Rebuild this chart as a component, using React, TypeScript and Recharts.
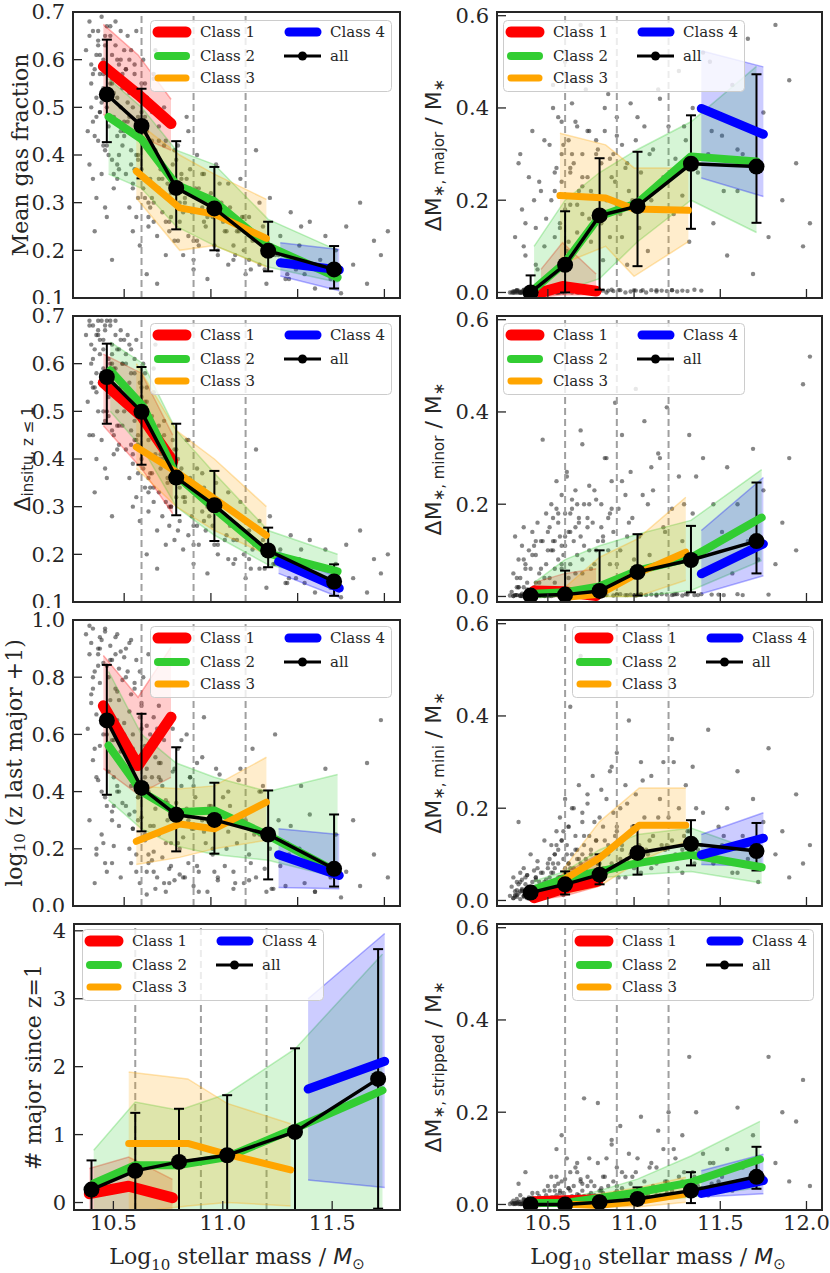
import React from 'react';
import {
  ComposedChart,
  XAxis,
  YAxis,
  Scatter,
  Line,
  Area,
  ErrorBar,
  ReferenceLine,
  ReferenceArea,
  Legend,
} from 'recharts';

// ---------------- galaxy sample (stellar mass) ----------------
const GALAXY_MASS = [
  10.28, 10.29, 10.3, 10.3, 10.31, 10.32, 10.32, 10.33, 10.34, 10.34, 10.35, 10.35, 10.36, 10.36, 10.37, 10.37, 10.38, 10.38, 10.39, 10.39,
  10.4, 10.4, 10.41, 10.41, 10.42, 10.42, 10.43, 10.43, 10.44, 10.44, 10.45, 10.45, 10.46, 10.46, 10.47, 10.47, 10.48, 10.48, 10.49, 10.49,
  10.5, 10.5, 10.33, 10.38, 10.43, 10.46,
  10.51, 10.51, 10.52, 10.52, 10.53, 10.53, 10.54, 10.54, 10.55, 10.55, 10.56, 10.56, 10.57, 10.57, 10.58, 10.58, 10.59, 10.6, 10.6, 10.61,
  10.62, 10.62, 10.63, 10.64, 10.64, 10.65, 10.66, 10.67, 10.67, 10.68, 10.69, 10.7, 10.7, 10.71, 10.72, 10.73, 10.74, 10.74, 10.75, 10.76,
  10.77, 10.78, 10.79, 10.8, 10.63, 10.69,
  10.81, 10.82, 10.83, 10.84, 10.85, 10.86, 10.87, 10.88, 10.89, 10.9, 10.91, 10.92, 10.93, 10.95, 10.96, 10.97, 10.98, 11.0, 11.01, 11.03,
  11.04, 11.06, 11.08, 11.1,
  11.11, 11.13, 11.15, 11.17, 11.19, 11.2, 11.22, 11.24, 11.26, 11.28, 11.3, 11.32, 11.34, 11.37, 11.4, 11.43, 11.46, 11.49,
  11.51, 11.54, 11.57, 11.6, 11.63, 11.66, 11.69, 11.72, 11.75, 11.78, 11.82, 11.86, 11.9, 11.94, 11.98, 12.02,
  10.31, 10.33, 10.35, 10.37, 10.39, 10.41, 10.43, 10.45, 10.47, 10.49,
  10.32, 10.34, 10.36, 10.38, 10.4, 10.42, 10.44, 10.46, 10.48, 10.5,
  10.52, 10.54, 10.56, 10.58, 10.6, 10.62, 10.64, 10.66, 10.68, 10.7,
  10.53, 10.55, 10.57, 10.59, 10.61, 10.63, 10.65, 10.67, 10.71, 10.73,
  10.75, 10.77, 10.79, 10.81, 10.83, 10.85, 10.87, 10.9, 10.93, 10.96,
  10.99, 11.02, 11.05, 11.09, 11.14, 11.18, 11.23, 11.29, 11.36, 11.44,
  10.3, 10.32, 10.34, 10.36, 10.38, 10.4, 10.42, 10.44, 10.46, 10.48,
  10.31, 10.35, 10.39, 10.43, 10.47, 10.51, 10.55, 10.59, 10.63, 10.67,
  10.5, 10.53, 10.56, 10.6, 10.64, 10.68, 10.72, 10.76, 10.8, 10.84,
  10.88, 10.92, 10.95, 10.98, 11.01, 11.04, 11.07, 11.1, 11.13, 11.16,
  10.54, 10.58, 10.62, 10.66, 10.7, 10.74, 10.78, 10.82, 10.86, 10.9,
  11.19, 11.22, 11.25, 11.28, 11.31, 11.35, 11.39, 11.45, 11.52, 11.6,
];

// per-galaxy values, same order as GALAXY_MASS
const GAS_FRACTION_PTS = [
  0.62, 0.45, 0.68, 0.38, 0.55, 0.47, 0.66, 0.58, 0.31, 0.52, 0.64, 0.43, 0.57, 0.49, 0.69, 0.36, 0.6, 0.53, 0.41, 0.65,
  0.5, 0.27, 0.58, 0.46, 0.67, 0.55, 0.39, 0.61, 0.48, 0.33, 0.56, 0.63, 0.44, 0.52, 0.59, 0.37, 0.66, 0.5, 0.42, 0.57,
  0.47, 0.62, 0.24, 0.54, 0.18, 0.35,
  0.58, 0.36, 0.65, 0.47, 0.29, 0.53, 0.41, 0.62, 0.34, 0.5, 0.44, 0.57, 0.27, 0.66, 0.39, 0.48, 0.21, 0.55, 0.37, 0.6,
  0.31, 0.45, 0.52, 0.25, 0.42, 0.35, 0.49, 0.3, 0.56, 0.4, 0.23, 0.46, 0.33, 0.38, 0.28, 0.5, 0.19, 0.43, 0.36, 0.26,
  0.32, 0.47, 0.22, 0.34, 0.15, 0.13,
  0.42, 0.26, 0.35, 0.19, 0.31, 0.48, 0.23, 0.37, 0.28, 0.16, 0.33, 0.4, 0.21, 0.29, 0.36, 0.25, 0.14, 0.32, 0.27, 0.38,
  0.2, 0.3, 0.24, 0.17,
  0.29, 0.18, 0.24, 0.35, 0.2, 0.15, 0.27, 0.22, 0.41, 0.17, 0.25, 0.13, 0.31, 0.19, 0.23, 0.14, 0.28, 0.16,
  0.21, 0.15, 0.26, 0.12, 0.18, 0.23, 0.14, 0.2, 0.11, 0.25, 0.17, 0.3, 0.13, 0.22, 0.19, 0.24,
  0.59, 0.44, 0.66, 0.51, 0.63, 0.4, 0.56, 0.68, 0.47, 0.54,
  0.35, 0.61, 0.49, 0.57, 0.42, 0.65, 0.53, 0.38, 0.6, 0.45,
  0.51, 0.38, 0.59, 0.31, 0.46, 0.55, 0.27, 0.43, 0.62, 0.35,
  0.48, 0.24, 0.4, 0.53, 0.33, 0.45, 0.29, 0.57, 0.37, 0.42,
  0.34, 0.27, 0.41, 0.22, 0.36, 0.3, 0.45, 0.18, 0.33, 0.26,
  0.29, 0.21, 0.34, 0.24, 0.19, 0.27, 0.16, 0.23, 0.2, 0.15,
  0.65, 0.57, 0.48, 0.61, 0.42, 0.67, 0.53, 0.36, 0.6, 0.45,
  0.5, 0.63, 0.29, 0.55, 0.4, 0.58, 0.33, 0.46, 0.52, 0.26,
  0.44, 0.6, 0.37, 0.49, 0.3, 0.41, 0.35, 0.24, 0.39, 0.28,
  0.33, 0.22, 0.36, 0.27, 0.31, 0.19, 0.26, 0.34, 0.21, 0.24,
  0.54, 0.4, 0.48, 0.31, 0.43, 0.26, 0.38, 0.3, 0.35, 0.22,
  0.27, 0.18, 0.23, 0.3, 0.16, 0.21, 0.19, 0.14, 0.25, 0.17,
];
const INSITU_PTS = [
  0.66, 0.52, 0.69, 0.45, 0.6, 0.55, 0.68, 0.63, 0.4, 0.58, 0.67, 0.5, 0.62, 0.56, 0.69, 0.44, 0.65, 0.59, 0.48, 0.68,
  0.57, 0.36, 0.61, 0.53, 0.69, 0.6, 0.46, 0.64, 0.54, 0.41, 0.59, 0.66, 0.5, 0.57, 0.63, 0.43, 0.67, 0.55, 0.47, 0.6,
  0.52, 0.65, 0.33, 0.58, 0.28, 0.42,
  0.6, 0.42, 0.66, 0.51, 0.36, 0.56, 0.46, 0.63, 0.39, 0.53, 0.48, 0.58, 0.32, 0.65, 0.43, 0.5, 0.27, 0.55, 0.4, 0.6,
  0.34, 0.47, 0.52, 0.29, 0.44, 0.37, 0.49, 0.31, 0.54, 0.41, 0.25, 0.45, 0.33, 0.38, 0.28, 0.48, 0.22, 0.42, 0.35, 0.26,
  0.3, 0.44, 0.23, 0.32, 0.2, 0.17,
  0.4, 0.27, 0.35, 0.21, 0.31, 0.44, 0.24, 0.36, 0.28, 0.18, 0.33, 0.38, 0.22, 0.29, 0.34, 0.25, 0.16, 0.3, 0.26, 0.35,
  0.2, 0.28, 0.23, 0.19,
  0.26, 0.18, 0.23, 0.31, 0.2, 0.15, 0.25, 0.21, 0.42, 0.17, 0.23, 0.13, 0.28, 0.18, 0.21, 0.14, 0.24, 0.15,
  0.19, 0.14, 0.23, 0.12, 0.17, 0.21, 0.13, 0.18, 0.11, 0.22, 0.15, 0.25, 0.12, 0.19, 0.16, 0.2,
  0.64, 0.55, 0.69, 0.58, 0.67, 0.49, 0.62, 0.69, 0.53, 0.6,
  0.45, 0.66, 0.56, 0.63, 0.5, 0.68, 0.59, 0.47, 0.65, 0.52,
  0.55, 0.43, 0.61, 0.37, 0.5, 0.58, 0.33, 0.47, 0.64, 0.4,
  0.52, 0.3, 0.44, 0.56, 0.38, 0.48, 0.34, 0.59, 0.41, 0.45,
  0.36, 0.3, 0.42, 0.25, 0.38, 0.32, 0.44, 0.22, 0.33, 0.27,
  0.28, 0.22, 0.31, 0.24, 0.19, 0.25, 0.17, 0.21, 0.18, 0.14,
  0.68, 0.61, 0.54, 0.65, 0.5, 0.69, 0.58, 0.45, 0.63, 0.52,
  0.56, 0.66, 0.38, 0.6, 0.47, 0.62, 0.41, 0.5, 0.55, 0.34,
  0.5, 0.64, 0.44, 0.53, 0.36, 0.46, 0.4, 0.3, 0.42, 0.32,
  0.35, 0.26, 0.37, 0.3, 0.32, 0.22, 0.28, 0.33, 0.23, 0.25,
  0.58, 0.45, 0.52, 0.37, 0.47, 0.31, 0.41, 0.34, 0.36, 0.26,
  0.24, 0.19, 0.22, 0.27, 0.17, 0.2, 0.18, 0.15, 0.21, 0.16,
];
const LOGZ_MAJOR_PTS = [
  0.95, 0.62, 0.88, 0.3, 0.74, 0.51, 0.97, 0.82, 0.18, 0.67, 0.9, 0.44, 0.78, 0.56, 0.93, 0.25, 0.85, 0.7, 0.38, 0.96,
  0.6, 0.12, 0.8, 0.47, 0.91, 0.72, 0.33, 0.86, 0.58, 0.21, 0.76, 0.94, 0.42, 0.65, 0.83, 0.28, 0.89, 0.54, 0.36, 0.79,
  0.49, 0.87, 0.08, 0.69, 0.15, 0.4,
  0.9, 0.35, 0.82, 0.55, 0.2, 0.68, 0.42, 0.93, 0.27, 0.6, 0.48, 0.76, 0.12, 0.86, 0.38, 0.52, 0.08, 0.71, 0.31, 0.8,
  0.23, 0.45, 0.63, 0.15, 0.4, 0.28, 0.57, 0.19, 0.66, 0.34, 0.1, 0.5, 0.25, 0.44, 0.17, 0.58, 0.05, 0.37, 0.3, 0.13,
  0.22, 0.47, 0.09, 0.33, 0.04, 0.62,
  0.55, 0.2, 0.42, 0.1, 0.33, 0.6, 0.15, 0.45, 0.27, 0.07, 0.38, 0.5, 0.12, 0.3, 0.66, 0.22, 0.05, 0.35, 0.18, 0.48,
  0.09, 0.28, 0.14, 0.4,
  0.35, 0.12, 0.22, 0.48, 0.08, 0.3, 0.18, 0.55, 0.1, 0.25, 0.42, 0.05, 0.2, 0.6, 0.14, 0.07, 0.28, 0.16,
  0.2, 0.08, 0.32, 0.05, 0.15, 0.48, 0.1, 0.25, 0.03, 0.12, 0.3, 0.07, 0.5, 0.18, 0.65, 0.1,
  0.92, 0.55, 0.84, 0.4, 0.97, 0.66, 0.3, 0.88, 0.72, 0.5,
  0.8, 0.2, 0.94, 0.6, 0.35, 0.86, 0.45, 0.75, 0.1, 0.64,
  0.52, 0.15, 0.78, 0.38, 0.62, 0.25, 0.88, 0.45, 0.06, 0.7,
  0.32, 0.55, 0.18, 0.82, 0.42, 0.12, 0.6, 0.28, 0.5, 0.08,
  0.36, 0.14, 0.48, 0.22, 0.58, 0.1, 0.3, 0.42, 0.05, 0.26,
  0.35, 0.12, 0.46, 0.2, 0.08, 0.3, 0.15, 0.4, 0.06, 0.22,
  0.98, 0.76, 0.45, 0.9, 0.22, 0.84, 0.63, 0.35, 0.95, 0.5,
  0.71, 0.88, 0.15, 0.58, 0.4, 0.8, 0.27, 0.66, 0.48, 0.12,
  0.6, 0.92, 0.33, 0.7, 0.18, 0.52, 0.42, 0.08, 0.36, 0.24,
  0.45, 0.14, 0.52, 0.3, 0.2, 0.1, 0.38, 0.26, 0.06, 0.44,
  0.74, 0.3, 0.56, 0.16, 0.45, 0.22, 0.62, 0.11, 0.34, 0.27,
  0.32, 0.09, 0.25, 0.4, 0.13, 0.06, 0.3, 0.18, 0.42, 0.05,
];
const DM_MAJOR_PTS = [
  0, 0, 0.003, 0, 0.12, 0, 0.005, 0, 0.3, 0, 0.002, 0.18, 0, 0.005, 0, 0.08, 0, 0.002, 0.25, 0,
  0.004, 0, 0.35, 0, 0.006, 0, 0.14, 0, 0.003, 0.05, 0, 0.001, 0.22, 0, 0.007, 0, 0.1, 0.002, 0, 0.16,
  0, 0.004, 0.28, 0, 0.06, 0.009,
  0, 0.32, 0.004, 0.2, 0, 0.45, 0.003, 0.12, 0, 0.27, 0.005, 0.38, 0, 0.15, 0.006, 0.24, 0, 0.5, 0.002, 0.09,
  0.33, 0.004, 0.19, 0, 0.41, 0.28, 0.003, 0.13, 0.36, 0.22, 0.005, 0.3, 0.17, 0, 0.44, 0.25, 0.005, 0.35, 0.11, 0.21,
  0.004, 0.3, 0.16, 0.004, 0.26, 0.58,
  0.28, 0.004, 0.35, 0.2, 0.43, 0.12, 0.006, 0.3, 0.24, 0.38, 0.005, 0.17, 0.32, 0.27, 0.06, 0.22, 0.41, 0.005, 0.33, 0.14,
  0.26, 0.36, 0.09, 0.2,
  0.31, 0.005, 0.42, 0.25, 0.18, 0.36, 0.005, 0.29, 0.48, 0.21, 0.33, 0.11, 0.4, 0.26, 0.52, 0.3, 0.15, 0.38,
  0.34, 0.08, 0.45, 0.22, 0.3, 0.55, 0.04, 0.27, 0.39, 0.12, 0.58, 0.2, 0.46, 0.28, 0.1, 0.15,
  0, 0.004, 0, 0.15, 0.002, 0, 0.006, 0.24, 0, 0.003,
  0.005, 0, 0.1, 0.001, 0, 0.2, 0.004, 0, 0.33, 0.003,
  0.004, 0.26, 0, 0.37, 0.18, 0.005, 0.3, 0.1, 0.002, 0.23,
  0.4, 0.005, 0.14, 0.32, 0.003, 0.27, 0.46, 0.19, 0.006, 0.35,
  0.22, 0.005, 0.31, 0.15, 0.4, 0.004, 0.25, 0.34, 0.12, 0.28,
  0.2, 0.38, 0.005, 0.3, 0.44, 0.24, 0.17, 0.36, 0.27, 0.5,
  0, 0.003, 0, 0.006, 0, 0.002, 0, 0.004, 0, 0.001,
  0.003, 0, 0.005, 0, 0.002, 0.004, 0, 0.003, 0.005, 0,
  0.002, 0.005, 0, 0.004, 0.003, 0, 0.006, 0.002, 0.004, 0,
  0.003, 0.005, 0, 0.002, 0.004, 0.003, 0, 0.005, 0.002, 0.004,
  0.22, 0.3, 0.11, 0.37, 0.25, 0.16, 0.33, 0.07, 0.29, 0.19,
  0.003, 0.005, 0.002, 0.004, 0.003, 0.006, 0.004, 0.35, 0.22, 0.31,
];
const DM_MINOR_PTS = [
  0.002, 0.01, 0.05, 0.001, 0.13, 0.02, 0.003, 0.08, 0.001, 0.04, 0.11, 0.006, 0.02, 0.15, 0.001, 0.07, 0.03, 0.002, 0.1, 0.012,
  0.001, 0.06, 0.004, 0.14, 0.02, 0.001, 0.09, 0.03, 0.005, 0.16, 0.001, 0.05, 0.12, 0.008, 0.002, 0.34, 0.04, 0.001, 0.07, 0.18,
  0.003, 0.1, 0.02, 0.006, 0.12, 0.001,
  0.15, 0.04, 0.2, 0.001, 0.1, 0.17, 0.03, 0.12, 0.25, 0.005, 0.08, 0.16, 0.002, 0.13, 0.22, 0.06, 0.003, 0.18, 0.11, 0.26,
  0.002, 0.14, 0.07, 0.19, 0.004, 0.12, 0.23, 0.09, 0.002, 0.17, 0.13, 0.33, 0.05, 0.2, 0.003, 0.15, 0.1, 0.24, 0.002, 0.16,
  0.07, 0.21, 0.12, 0.003, 0.18, 0.36,
  0.2, 0.12, 0.003, 0.3, 0.17, 0.07, 0.25, 0.14, 0.42, 0.004, 0.19, 0.1, 0.35, 0.22, 0.003, 0.16, 0.27, 0.08, 0.45, 0.13,
  0.004, 0.38, 0.2, 0.28,
  0.23, 0.004, 0.3, 0.15, 0.41, 0.08, 0.19, 0.005, 0.26, 0.12, 0.005, 0.35, 0.18, 0.003, 0.3, 0.1, 0.2, 0.004,
  0.14, 0.28, 0.05, 0.2, 0.003, 0.12, 0.32, 0.08, 0.23, 0.004, 0.07, 0.16, 0.3, 0.1, 0.46, 0.52,
  0.003, 0.02, 0.001, 0.06, 0.004, 0.09, 0.002, 0.03, 0.12, 0.001,
  0.04, 0.002, 0.08, 0.015, 0.001, 0.11, 0.005, 0.06, 0.002, 0.14,
  0.1, 0.003, 0.18, 0.07, 0.13, 0.002, 0.21, 0.05, 0.16, 0.004,
  0.12, 0.19, 0.003, 0.09, 0.27, 0.14, 0.002, 0.2, 0.11, 0.17,
  0.06, 0.23, 0.004, 0.15, 0.3, 0.1, 0.19, 0.005, 0.25, 0.13,
  0.17, 0.004, 0.22, 0.09, 0.31, 0.14, 0.004, 0.2, 0.26, 0.11,
  0.001, 0.003, 0.002, 0.004, 0.001, 0.002, 0.003, 0.001, 0.004, 0.002,
  0.003, 0.001, 0.004, 0.002, 0.003, 0.001, 0.005, 0.002, 0.003, 0.001,
  0.004, 0.002, 0.003, 0.005, 0.002, 0.004, 0.003, 0.002, 0.004, 0.003,
  0.002, 0.005, 0.003, 0.004, 0.002, 0.005, 0.003, 0.004, 0.002, 0.005,
  0.06, 0.11, 0.04, 0.15, 0.08, 0.2, 0.1, 0.13, 0.18, 0.07,
  0.004, 0.003, 0.005, 0.002, 0.004, 0.003, 0.005, 0.004, 0.003, 0.005,
];
const DM_MINI_PTS = [
  0.01, 0.03, 0.005, 0.05, 0.02, 0.008, 0.04, 0.015, 0.06, 0.003, 0.025, 0.045, 0.01, 0.07, 0.02, 0.035, 0.005, 0.055, 0.015, 0.03,
  0.1, 0.01, 0.04, 0.02, 0.065, 0.008, 0.03, 0.05, 0.012, 0.085, 0.025, 0.04, 0.006, 0.06, 0.02, 0.035, 0.13, 0.015, 0.045, 0.01,
  0.07, 0.03, 0.17, 0.02, 0.05, 0.004,
  0.05, 0.09, 0.03, 0.12, 0.06, 0.02, 0.1, 0.07, 0.15, 0.04, 0.11, 0.08, 0.18, 0.05, 0.13, 0.03, 0.09, 0.22, 0.06, 0.12,
  0.08, 0.16, 0.04, 0.1, 0.2, 0.07, 0.14, 0.05, 0.11, 0.25, 0.08, 0.17, 0.03, 0.12, 0.09, 0.21, 0.06, 0.14, 0.1, 0.27,
  0.05, 0.13, 0.08, 0.18, 0.42, 0.53,
  0.1, 0.16, 0.06, 0.22, 0.12, 0.28, 0.08, 0.19, 0.14, 0.32, 0.05, 0.2, 0.11, 0.25, 0.09, 0.39, 0.15, 0.07, 0.23, 0.12,
  0.3, 0.18, 0.1, 0.27,
  0.14, 0.08, 0.22, 0.3, 0.12, 0.18, 0.35, 0.1, 0.2, 0.06, 0.25, 0.15, 0.29, 0.11, 0.19, 0.37, 0.08, 0.16,
  0.12, 0.2, 0.06, 0.28, 0.14, 0.09, 0.22, 0.04, 0.17, 0.33, 0.1, 0.15, 0.05, 0.23, 0.08, 0.12,
  0.012, 0.035, 0.02, 0.05, 0.008, 0.028, 0.045, 0.015, 0.06, 0.03,
  0.022, 0.04, 0.01, 0.055, 0.03, 0.018, 0.07, 0.025, 0.04, 0.08,
  0.06, 0.1, 0.04, 0.13, 0.07, 0.16, 0.05, 0.11, 0.09, 0.19,
  0.08, 0.12, 0.05, 0.15, 0.1, 0.07, 0.2, 0.09, 0.14, 0.23,
  0.11, 0.17, 0.08, 0.24, 0.13, 0.1, 0.29, 0.15, 0.12, 0.21,
  0.16, 0.09, 0.26, 0.13, 0.18, 0.11, 0.3, 0.14, 0.2, 0.1,
  0.005, 0.012, 0.02, 0.008, 0.015, 0.003, 0.01, 0.025, 0.006, 0.018,
  0.009, 0.022, 0.004, 0.014, 0.03, 0.02, 0.035, 0.012, 0.045, 0.028,
  0.025, 0.04, 0.05, 0.03, 0.06, 0.045, 0.07, 0.05, 0.08, 0.06,
  0.07, 0.09, 0.05, 0.1, 0.08, 0.06, 0.11, 0.07, 0.09, 0.12,
  0.03, 0.05, 0.08, 0.04, 0.1, 0.06, 0.13, 0.07, 0.11, 0.16,
  0.09, 0.13, 0.07, 0.11, 0.15, 0.08, 0.12, 0.1, 0.14, 0.06,
];
const DM_STRIPPED_PTS = [
  0.001, 0.004, 0.002, 0.008, 0.001, 0.012, 0.003, 0.001, 0.006, 0.02, 0.002, 0.001, 0.01, 0.004, 0.002, 0.07, 0.001, 0.005, 0.015, 0.002,
  0.001, 0.008, 0.003, 0.025, 0.001, 0.004, 0.012, 0.002, 0.001, 0.006, 0.018, 0.003, 0.001, 0.01, 0.005, 0.002, 0.03, 0.001, 0.007, 0.004,
  0.013, 0.002, 0.045, 0.001, 0.008, 0.003,
  0.01, 0.03, 0.004, 0.06, 0.015, 0.002, 0.04, 0.008, 0.12, 0.02, 0.005, 0.045, 0.01, 0.03, 0.15, 0.003, 0.025, 0.055, 0.012, 0.008,
  0.035, 0.002, 0.07, 0.018, 0.01, 0.04, 0.005, 0.09, 0.022, 0.012, 0.05, 0.004, 0.03, 0.23, 0.015, 0.06, 0.008, 0.1, 0.025, 0.005,
  0.04, 0.013, 0.22, 0.03, 0.01, 0.055,
  0.03, 0.06, 0.015, 0.1, 0.04, 0.02, 0.14, 0.05, 0.025, 0.08, 0.01, 0.17, 0.035, 0.06, 0.02, 0.11, 0.045, 0.015, 0.07, 0.03,
  0.19, 0.05, 0.02, 0.09,
  0.04, 0.08, 0.02, 0.12, 0.05, 0.2, 0.03, 0.1, 0.06, 0.15, 0.03, 0.32, 0.07, 0.04, 0.11, 0.02, 0.09, 0.05,
  0.06, 0.12, 0.03, 0.21, 0.08, 0.04, 0.15, 0.1, 0.06, 0.32, 0.09, 0.2, 0.05, 0.18, 0.27, 0.04,
  0.002, 0.006, 0.001, 0.01, 0.003, 0.015, 0.002, 0.008, 0.001, 0.02,
  0.004, 0.001, 0.012, 0.003, 0.006, 0.002, 0.025, 0.005, 0.001, 0.04,
  0.015, 0.03, 0.006, 0.05, 0.01, 0.035, 0.003, 0.08, 0.02, 0.045,
  0.008, 0.06, 0.025, 0.012, 0.1, 0.03, 0.005, 0.07, 0.018, 0.04,
  0.05, 0.02, 0.09, 0.035, 0.06, 0.015, 0.13, 0.04, 0.07, 0.025,
  0.06, 0.1, 0.03, 0.08, 0.16, 0.05, 0.12, 0.07, 0.2, 0.09,
  0.001, 0.002, 0.001, 0.003, 0.002, 0.001, 0.002, 0.003, 0.001, 0.002,
  0.003, 0.001, 0.002, 0.004, 0.002, 0.003, 0.005, 0.002, 0.004, 0.003,
  0.005, 0.004, 0.006, 0.008, 0.005, 0.01, 0.007, 0.012, 0.009, 0.015,
  0.012, 0.02, 0.01, 0.025, 0.015, 0.03, 0.018, 0.035, 0.02, 0.04,
  0.006, 0.01, 0.008, 0.015, 0.012, 0.02, 0.01, 0.025, 0.018, 0.03,
  0.025, 0.04, 0.02, 0.05, 0.03, 0.06, 0.035, 0.045, 0.07, 0.05,
];

// ---------------- binned medians ----------------
const BIN_MASS = [10.4, 10.6, 10.8, 11.02, 11.33, 11.71];
const SPLIT_MASS = [10.6, 10.9, 11.2];
const X_TICKS = [10.5, 11.0, 11.5, 12.0];
const X_TICKS_SHORT = [10.5, 11.0, 11.5];

type ClassSeries = { m: number[]; y: number[]; lo: number[]; hi: number[] };
type AllSeries = { y: number[]; lo: number[]; hi: number[] };

// Mean gas fraction
const GAS_ALL: AllSeries = { y: [0.527, 0.461, 0.331, 0.288, 0.199, 0.16], lo: [0.427, 0.351, 0.244, 0.2, 0.156, 0.12], hi: [0.642, 0.539, 0.429, 0.375, 0.26, 0.209] };
const GAS_C1: ClassSeries = { m: [10.38, 10.58, 10.77], y: [0.586, 0.527, 0.466], lo: [0.485, 0.44, 0.41], hi: [0.674, 0.61, 0.517] };
const GAS_C2: ClassSeries = { m: [10.41, 10.6, 10.8, 11.02, 11.33, 11.73], y: [0.48, 0.433, 0.338, 0.303, 0.209, 0.143], lo: [0.36, 0.33, 0.25, 0.21, 0.165, 0.133], hi: [0.56, 0.5, 0.41, 0.38, 0.265, 0.2] };
const GAS_C3: ClassSeries = { m: [10.57, 10.82, 11.02, 11.32], y: [0.366, 0.289, 0.276, 0.225], lo: [0.31, 0.2, 0.21, 0.165], hi: [0.47, 0.4, 0.36, 0.307] };
const GAS_C4: ClassSeries = { m: [11.4, 11.74], y: [0.174, 0.159], lo: [0.146, 0.115], hi: [0.216, 0.202] };

// In-situ fraction
const INSITU_ALL: AllSeries = { y: [0.572, 0.499, 0.361, 0.303, 0.208, 0.143], lo: [0.474, 0.388, 0.282, 0.228, 0.173, 0.113], hi: [0.642, 0.593, 0.474, 0.375, 0.256, 0.179] };
const INSITU_C1: ClassSeries = { m: [10.38, 10.6, 10.78], y: [0.56, 0.49, 0.395], lo: [0.47, 0.38, 0.285], hi: [0.62, 0.58, 0.45] };
const INSITU_C2: ClassSeries = { m: [10.42, 10.61, 10.8, 11.02, 11.33, 11.73], y: [0.586, 0.51, 0.366, 0.296, 0.202, 0.164], lo: [0.5, 0.42, 0.3, 0.24, 0.178, 0.148], hi: [0.645, 0.6, 0.46, 0.37, 0.25, 0.2] };
const INSITU_C3: ClassSeries = { m: [10.57, 10.8, 11.02, 11.32], y: [0.425, 0.373, 0.317, 0.24], lo: [0.38, 0.3, 0.25, 0.2], hi: [0.6, 0.46, 0.4, 0.3] };
const INSITU_C4: ClassSeries = { m: [11.39, 11.74], y: [0.185, 0.129], lo: [0.16, 0.11], hi: [0.205, 0.15] };

// log10(z last major + 1)
const LOGZ_ALL: AllSeries = { y: [0.649, 0.413, 0.319, 0.301, 0.25, 0.13], lo: [0.389, 0.261, 0.191, 0.183, 0.093, 0.068], hi: [0.843, 0.672, 0.555, 0.431, 0.404, 0.32] };
const LOGZ_C1: ClassSeries = { m: [10.38, 10.58, 10.77], y: [0.7, 0.491, 0.66], lo: [0.48, 0.39, 0.45], hi: [0.876, 0.73, 0.905] };
const LOGZ_C2: ClassSeries = { m: [10.41, 10.6, 10.8, 11.02, 11.33, 11.73], y: [0.561, 0.4, 0.328, 0.334, 0.247, 0.118], lo: [0.37, 0.27, 0.21, 0.18, 0.16, 0.1], hi: [0.82, 0.6, 0.5, 0.45, 0.4, 0.46] };
const LOGZ_C3: ClassSeries = { m: [10.57, 10.82, 11.02, 11.32], y: [0.226, 0.287, 0.27, 0.363], lo: [0.145, 0.17, 0.2, 0.23], hi: [0.42, 0.41, 0.42, 0.52] };
const LOGZ_C4: ClassSeries = { m: [11.39, 11.74], y: [0.179, 0.107], lo: [0.065, 0.06], hi: [0.27, 0.25] };

// # major mergers since z=1
const NMAJ_ALL: AllSeries = { y: [0.19, 0.466, 0.598, 0.696, 1.04, 1.82], lo: [-0.24, -0.39, -0.19, -0.19, -0.19, -0.09], hi: [0.62, 1.32, 1.38, 1.58, 2.27, 3.73] };
const NMAJ_C1: ClassSeries = { m: [10.39, 10.57, 10.77], y: [0.13, 0.24, 0.07], lo: [-0.3, -0.3, -0.3], hi: [0.5, 0.67, 0.34] };
const NMAJ_C2: ClassSeries = { m: [10.41, 10.6, 10.8, 11.02, 11.33, 11.73], y: [0.28, 0.55, 0.55, 0.67, 1.09, 1.65], lo: [-0.4, -0.4, -0.4, -0.4, -0.4, -0.4], hi: [0.77, 1.48, 1.36, 1.6, 2.26, 3.66] };
const NMAJ_C3: ClassSeries = { m: [10.57, 10.84, 11.02, 11.31], y: [0.87, 0.87, 0.71, 0.48], lo: [-0.15, -0.05, 0.0, -0.05], hi: [1.92, 1.82, 1.46, 1.16] };
const NMAJ_C4: ClassSeries = { m: [11.39, 11.74], y: [1.67, 2.08], lo: [0.33, 0.22], hi: [3.0, 3.96] };

// dM major / M
const MAJOR_ALL: AllSeries = { y: [0.0, 0.06, 0.167, 0.187, 0.279, 0.273], lo: [-0.01, 0.0, 0.006, 0.057, 0.138, 0.151], hi: [0.037, 0.176, 0.291, 0.305, 0.384, 0.473] };
const MAJOR_C1: ClassSeries = { m: [10.46, 10.585, 10.78], y: [0.0, 0.013, 0.003], lo: [-0.01, -0.005, -0.005], hi: [0.05, 0.108, 0.04] };
const MAJOR_C2: ClassSeries = { m: [10.42, 10.6, 10.8, 11.02, 11.33, 11.71], y: [0.007, 0.065, 0.165, 0.194, 0.295, 0.284], lo: [-0.005, 0.005, 0.03, 0.11, 0.2, 0.13], hi: [0.1, 0.2, 0.26, 0.31, 0.37, 0.49] };
const MAJOR_C3: ClassSeries = { m: [10.57, 10.835, 11.0, 11.315], y: [0.21, 0.205, 0.181, 0.178], lo: [0.06, 0.1, 0.035, 0.11], hi: [0.345, 0.32, 0.27, 0.27] };
const MAJOR_C4: ClassSeries = { m: [11.39, 11.75], y: [0.399, 0.343], lo: [0.248, 0.208], hi: [0.524, 0.489] };

// dM minor / M
const MINOR_ALL: AllSeries = { y: [0.002, 0.004, 0.012, 0.053, 0.079, 0.12], lo: [-0.002, 0.0, 0.0, 0.002, 0.009, 0.05], hi: [0.01, 0.056, 0.1, 0.135, 0.153, 0.247] };
const MINOR_C1: ClassSeries = { m: [10.42, 10.6, 10.78], y: [0.012, 0.01, 0.002], lo: [0.0, 0.0, 0.0], hi: [0.03, 0.05, 0.06] };
const MINOR_C2: ClassSeries = { m: [10.42, 10.6, 10.8, 11.02, 11.33, 11.74], y: [0.006, 0.009, 0.022, 0.056, 0.084, 0.171], lo: [0.0, 0.0, 0.0, 0.0, 0.013, 0.078], hi: [0.03, 0.08, 0.11, 0.135, 0.165, 0.275] };
const MINOR_C3: ClassSeries = { m: [10.6, 10.8, 11.02, 11.3], y: [-0.002, 0.005, 0.05, 0.096], lo: [-0.005, 0.0, 0.0, 0.035], hi: [0.02, 0.085, 0.125, 0.215] };
const MINOR_C4: ClassSeries = { m: [11.39, 11.75], y: [0.049, 0.114], lo: [0.006, 0.045], hi: [0.143, 0.258] };

// dM mini / M
const MINI_ALL: AllSeries = { y: [0.017, 0.035, 0.056, 0.103, 0.123, 0.107], lo: [0.008, 0.013, 0.035, 0.056, 0.076, 0.065], hi: [0.026, 0.063, 0.1, 0.163, 0.174, 0.168] };
const MINI_C1: ClassSeries = { m: [10.42, 10.6, 10.79], y: [0.006, 0.027, 0.042], lo: [0.0, 0.01, 0.03], hi: [0.02, 0.06, 0.1] };
const MINI_C2: ClassSeries = { m: [10.42, 10.6, 10.8, 11.02, 11.33, 11.74], y: [0.024, 0.048, 0.063, 0.081, 0.099, 0.072], lo: [0.006, 0.027, 0.049, 0.056, 0.063, 0.038], hi: [0.042, 0.063, 0.11, 0.143, 0.157, 0.103] };
const MINI_C3: ClassSeries = { m: [10.58, 10.8, 11.03, 11.3], y: [0.042, 0.092, 0.163, 0.163], lo: [0.013, 0.031, 0.085, 0.128], hi: [0.063, 0.171, 0.244, 0.244] };
const MINI_C4: ClassSeries = { m: [11.39, 11.75], y: [0.099, 0.135], lo: [0.078, 0.074], hi: [0.143, 0.19] };

// dM stripped / M
const STRIP_ALL: AllSeries = { y: [0.0, 0.0, 0.005, 0.012, 0.03, 0.06], lo: [-0.004, -0.003, -0.002, 0.0, 0.003, 0.034], hi: [0.005, 0.006, 0.012, 0.037, 0.07, 0.125] };
const STRIP_C1: ClassSeries = { m: [10.42, 10.6, 10.8], y: [0.006, 0.008, 0.01], lo: [0.0, 0.0, 0.0], hi: [0.012, 0.015, 0.02] };
const STRIP_C2: ClassSeries = { m: [10.42, 10.6, 10.8, 11.02, 11.33, 11.73], y: [0.003, 0.003, 0.014, 0.026, 0.048, 0.098], lo: [0.0, 0.0, 0.0, 0.005, 0.016, 0.037], hi: [0.009, 0.012, 0.03, 0.055, 0.105, 0.18] };
const STRIP_C3: ClassSeries = { m: [10.58, 10.8, 11.03, 11.3], y: [0.001, -0.002, 0.007, 0.023], lo: [-0.004, -0.005, -0.005, 0.005], hi: [0.009, 0.023, 0.037, 0.059] };
const STRIP_C4: ClassSeries = { m: [11.39, 11.75], y: [0.024, 0.052], lo: [0.016, 0.023], hi: [0.073, 0.109] };

// ---------------- styling ----------------
const CLASS_NAMES = ['Class 1', 'Class 2', 'Class 3', 'Class 4'];
const CLASS_COLORS = ['#ff0000', '#32cd32', '#ffa500', '#0000ff'];
const CLASS_WIDTHS = [11, 8, 7, 9];
const INK = '#262626';
const SERIF = "'DejaVu Serif', serif";
const SANS = "'DejaVu Sans', sans-serif";

const HiddenTick = () => <g />;

const GalaxyDot = (props: any) => {
  if (props.cx == null || props.cy == null) return <g />;
  return <circle cx={props.cx} cy={props.cy} r={2.2} fill="#222222" fillOpacity={0.55} />;
};

function LegendBox() {
  const rows = [12, 36, 58];
  return (
    <svg width={242} height={72} style={{ display: 'block', overflow: 'visible' }}>
      <rect x={0.5} y={0.5} width={241} height={71} rx={4} fill="#ffffff" fillOpacity={0.8} stroke="#cccccc" strokeWidth={1} />
      {[0, 1, 2].map((k) => (
        <g key={k}>
          <line x1={8} x2={36} y1={rows[k]} y2={rows[k]} stroke={CLASS_COLORS[k]} strokeWidth={CLASS_WIDTHS[k]} strokeLinecap="round" />
          <text x={50} y={rows[k]} dominantBaseline="central" fontFamily={SERIF} fontSize={15} fill={INK}>
            {CLASS_NAMES[k]}
          </text>
        </g>
      ))}
      <line x1={139} x2={167} y1={rows[0]} y2={rows[0]} stroke={CLASS_COLORS[3]} strokeWidth={CLASS_WIDTHS[3]} strokeLinecap="round" />
      <text x={180} y={rows[0]} dominantBaseline="central" fontFamily={SERIF} fontSize={15} fill={INK}>
        {CLASS_NAMES[3]}
      </text>
      <line x1={134} x2={171} y1={rows[1]} y2={rows[1]} stroke="#000" strokeWidth={3} />
      <circle cx={152.5} cy={rows[1]} r={4.5} fill="#000" />
      <text x={180} y={rows[1]} dominantBaseline="central" fontFamily={SERIF} fontSize={15} fill={INK}>
        all
      </text>
    </svg>
  );
}

function YTitle(props: { cx: number; cy: number; font: string; children?: React.ReactNode }) {
  const { cx, cy, font, children } = props;
  return (
    <text
      x={cx}
      y={cy}
      transform={`rotate(-90 ${cx} ${cy})`}
      textAnchor="middle"
      dominantBaseline="central"
      fontFamily={font}
      fontSize={22}
      fill={INK}
    >
      {children}
    </text>
  );
}

function XTitle(props: { cx: number }) {
  const { cx } = props;
  return (
    <text x={cx} y={352} textAnchor="middle" fontFamily={SERIF} fontSize={22} fill={INK}>
      Log
      <tspan dy={6} fontSize={15}>10</tspan>
      <tspan dy={-6}> stellar mass / </tspan>
      <tspan fontFamily={SANS} fontStyle="italic">M</tspan>
      <tspan dy={5} fontSize={15} fontFamily={SANS}>⊙</tspan>
    </text>
  );
}

function dmTitle(kind: string) {
  return (
    <>
      ΔM
      <tspan dy={6} fontSize={15}>{`∗, ${kind}`}</tspan>
      <tspan dy={-6}> / M</tspan>
      <tspan dy={6} fontSize={15}>∗</tspan>
    </>
  );
}

type PanelDef = {
  left: number;
  top: number;
  height: number;
  yAxisWidth: number;
  rightMargin: number;
  xAxisHeight: number;
  xDomain: [number, number];
  xTicks: number[];
  yDomain: [number, number];
  yTicks: number[];
  yDigits: number;
  points: number[] | null;
  classes: ClassSeries[];
  all: AllSeries;
  legendAt: [number, number];
  yTitle: React.ReactNode;
  yTitleFont: string;
  yTitleAt: [number, number];
  xTitleX: number | null;
};

const LEFT_X: [number, number] = [10.205, 12.09];
const BOTTOM_LEFT_X: [number, number] = [10.32, 11.81];
const RIGHT_Y: [number, number] = [-0.012, 0.608];
const RIGHT_Y_TICKS = [0, 0.2, 0.4, 0.6];

const PANELS: PanelDef[] = [
  {
    left: 0, top: 0, height: 304, yAxisWidth: 73, rightMargin: 15, xAxisHeight: 6,
    xDomain: LEFT_X, xTicks: X_TICKS, yDomain: [0.1, 0.7], yTicks: [0.1, 0.2, 0.3, 0.4, 0.5, 0.6, 0.7], yDigits: 1,
    points: GAS_FRACTION_PTS, classes: [GAS_C1, GAS_C2, GAS_C3, GAS_C4], all: GAS_ALL, legendAt: [150, 20],
    yTitle: 'Mean gas fraction', yTitleFont: SERIF, yTitleAt: [20, 155], xTitleX: null,
  },
  {
    left: 415, top: 0, height: 304, yAxisWidth: 82, rightMargin: 8, xAxisHeight: 6,
    xDomain: LEFT_X, xTicks: X_TICKS, yDomain: RIGHT_Y, yTicks: RIGHT_Y_TICKS, yDigits: 1,
    points: DM_MAJOR_PTS, classes: [MAJOR_C1, MAJOR_C2, MAJOR_C3, MAJOR_C4], all: MAJOR_ALL, legendAt: [88, 20],
    yTitle: dmTitle('major'), yTitleFont: SANS, yTitleAt: [18, 155], xTitleX: null,
  },
  {
    left: 0, top: 304, height: 304, yAxisWidth: 73, rightMargin: 15, xAxisHeight: 6,
    xDomain: LEFT_X, xTicks: X_TICKS, yDomain: [0.1, 0.7], yTicks: [0.1, 0.2, 0.3, 0.4, 0.5, 0.6, 0.7], yDigits: 1,
    points: INSITU_PTS, classes: [INSITU_C1, INSITU_C2, INSITU_C3, INSITU_C4], all: INSITU_ALL, legendAt: [150, 19],
    yTitle: (
      <>
        Δ
        <tspan dy={6} fontSize={15}>insitu, z ≤ 1</tspan>
      </>
    ),
    yTitleFont: SANS, yTitleAt: [22, 155], xTitleX: null,
  },
  {
    left: 415, top: 304, height: 304, yAxisWidth: 82, rightMargin: 8, xAxisHeight: 6,
    xDomain: LEFT_X, xTicks: X_TICKS, yDomain: RIGHT_Y, yTicks: RIGHT_Y_TICKS, yDigits: 1,
    points: DM_MINOR_PTS, classes: [MINOR_C1, MINOR_C2, MINOR_C3, MINOR_C4], all: MINOR_ALL, legendAt: [88, 19],
    yTitle: dmTitle('minor'), yTitleFont: SANS, yTitleAt: [18, 155], xTitleX: null,
  },
  {
    left: 0, top: 608, height: 304, yAxisWidth: 73, rightMargin: 15, xAxisHeight: 6,
    xDomain: LEFT_X, xTicks: X_TICKS, yDomain: [0, 1], yTicks: [0, 0.2, 0.4, 0.6, 0.8, 1.0], yDigits: 1,
    points: LOGZ_MAJOR_PTS, classes: [LOGZ_C1, LOGZ_C2, LOGZ_C3, LOGZ_C4], all: LOGZ_ALL, legendAt: [150, 18],
    yTitle: (
      <>
        log
        <tspan dy={6} fontSize={15}>10</tspan>
        <tspan dy={-6}> (z last major +1)</tspan>
      </>
    ),
    yTitleFont: SERIF, yTitleAt: [14, 155], xTitleX: null,
  },
  {
    left: 415, top: 608, height: 304, yAxisWidth: 82, rightMargin: 8, xAxisHeight: 6,
    xDomain: LEFT_X, xTicks: X_TICKS, yDomain: RIGHT_Y, yTicks: RIGHT_Y_TICKS, yDigits: 1,
    points: DM_MINI_PTS, classes: [MINI_C1, MINI_C2, MINI_C3, MINI_C4], all: MINI_ALL, legendAt: [157, 18],
    yTitle: dmTitle('mini'), yTitleFont: SANS, yTitleAt: [18, 155], xTitleX: null,
  },
  {
    left: 0, top: 912, height: 361, yAxisWidth: 74, rightMargin: 15, xAxisHeight: 63,
    xDomain: BOTTOM_LEFT_X, xTicks: X_TICKS_SHORT, yDomain: [-0.11, 4.1], yTicks: [0, 1, 2, 3, 4], yDigits: 0,
    points: null, classes: [NMAJ_C1, NMAJ_C2, NMAJ_C3, NMAJ_C4], all: NMAJ_ALL, legendAt: [82, 17],
    yTitle: '# major since z=1', yTitleFont: SERIF, yTitleAt: [33, 155], xTitleX: 237,
  },
  {
    left: 415, top: 912, height: 361, yAxisWidth: 82, rightMargin: 8, xAxisHeight: 63,
    xDomain: LEFT_X, xTicks: X_TICKS, yDomain: RIGHT_Y, yTicks: RIGHT_Y_TICKS, yDigits: 1,
    points: DM_STRIPPED_PTS, classes: [STRIP_C1, STRIP_C2, STRIP_C3, STRIP_C4], all: STRIP_ALL, legendAt: [157, 17],
    yTitle: dmTitle('stripped'), yTitleFont: SANS, yTitleAt: [18, 155], xTitleX: 243,
  },
];

function Panel({ d }: { d: PanelDef }) {
  const width = 415;
  const scatterRows = d.points ? GALAXY_MASS.map((m, i) => ({ m, y: (d.points as number[])[i] })) : [];
  const allRows = BIN_MASS.map((m, i) => {
    const v = d.all.y[i];
    const lo = Math.max(d.all.lo[i], d.yDomain[0]);
    const hi = Math.min(d.all.hi[i], d.yDomain[1]);
    return { m, y: v, err: [v - lo, hi - v] };
  });
  const showX = d.xTitleX !== null;
  return (
    <div style={{ position: 'absolute', left: d.left, top: d.top, width, height: d.height }}>
      <ComposedChart width={width} height={d.height} margin={{ top: 12, right: d.rightMargin, bottom: 0, left: 0 }}>
        <XAxis
          type="number"
          dataKey="m"
          domain={d.xDomain}
          ticks={d.xTicks}
          interval={0}
          allowDataOverflow
          height={d.xAxisHeight}
          axisLine={false}
          tickSize={-9}
          tickMargin={14}
          tickLine={{ stroke: INK, strokeWidth: 1.3 }}
          tick={showX ? { fill: INK, fontSize: 21, fontFamily: SERIF } : HiddenTick}
          tickFormatter={(v: number) => v.toFixed(1)}
          label={showX ? <XTitle cx={d.xTitleX as number} /> : undefined}
        />
        <YAxis
          type="number"
          dataKey="y"
          domain={d.yDomain}
          ticks={d.yTicks}
          interval={0}
          allowDataOverflow
          width={d.yAxisWidth}
          axisLine={false}
          tickSize={-9}
          tickMargin={17}
          tickLine={{ stroke: INK, strokeWidth: 1.3 }}
          tick={{ fill: INK, fontSize: 21, fontFamily: SERIF }}
          tickFormatter={(v: number) => v.toFixed(d.yDigits)}
          label={
            <YTitle cx={d.yTitleAt[0]} cy={d.yTitleAt[1]} font={d.yTitleFont}>
              {d.yTitle}
            </YTitle>
          }
        />
        {d.points && (
          <Scatter data={scatterRows} dataKey="y" shape={GalaxyDot} isAnimationActive={false} zIndex={50} />
        )}
        {SPLIT_MASS.map((x) => (
          <ReferenceLine key={`split-${x}`} x={x} stroke="#a0a0a0" strokeWidth={2} strokeDasharray="7 4" zIndex={60} />
        ))}
        {d.classes.map((s, k) => (
          <Area
            key={`band-${k}`}
            data={s.m.map((m, i) => ({ m, band: [s.lo[i], s.hi[i]] }))}
            dataKey="band"
            type="linear"
            stroke={CLASS_COLORS[k]}
            strokeOpacity={0.3}
            strokeWidth={1.5}
            fill={CLASS_COLORS[k]}
            fillOpacity={0.2}
            dot={false}
            activeDot={false}
            isAnimationActive={false}
            zIndex={100 + k}
          />
        ))}
        {d.classes.map((s, k) => (
          <Line
            key={`line-${k}`}
            data={s.m.map((m, i) => ({ m, y: s.y[i] }))}
            dataKey="y"
            type="linear"
            stroke={CLASS_COLORS[k]}
            strokeWidth={CLASS_WIDTHS[k]}
            strokeLinecap="round"
            strokeLinejoin="round"
            dot={false}
            activeDot={false}
            isAnimationActive={false}
            zIndex={400 + k}
          />
        ))}
        <Line
          data={allRows}
          dataKey="y"
          type="linear"
          stroke="#000000"
          strokeWidth={3.5}
          dot={{ r: 8, fill: '#000000', stroke: '#000000', strokeWidth: 0 }}
          activeDot={false}
          isAnimationActive={false}
          zIndex={450}
        >
          <ErrorBar dataKey="err" width={5} stroke="#000000" strokeWidth={2} direction="y" />
        </Line>
        <ReferenceArea
          x1={d.xDomain[0]}
          x2={d.xDomain[1]}
          y1={d.yDomain[0]}
          y2={d.yDomain[1]}
          fill="none"
          fillOpacity={0}
          stroke={INK}
          strokeWidth={2}
          ifOverflow="visible"
          zIndex={3000}
        />
        <Legend
          layout="vertical"
          align="center"
          verticalAlign="middle"
          content={() => <LegendBox />}
          wrapperStyle={{ position: 'absolute', left: d.legendAt[0], top: d.legendAt[1], width: 242, height: 72, margin: 0, padding: 0 }}
        />
      </ComposedChart>
    </div>
  );
}

export default function App() {
  return (
    <div style={{ position: 'absolute', left: 0, top: 0, width: 830, height: 1273, background: '#ffffff', overflow: 'hidden' }}>
      {PANELS.map((d, i) => (
        <Panel key={i} d={d} />
      ))}
    </div>
  );
}
